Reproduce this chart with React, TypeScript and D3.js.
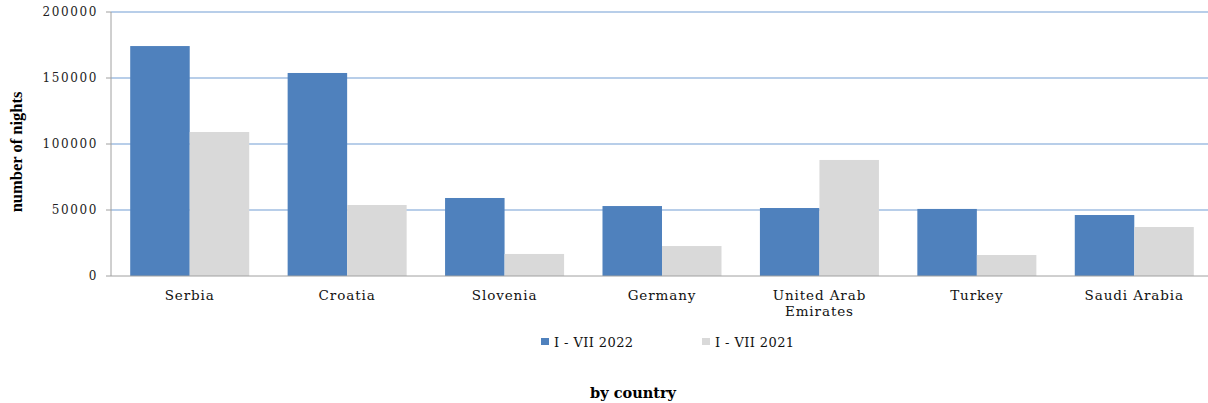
import * as d3 from "d3";

const countries = [
  "Serbia",
  "Croatia",
  "Slovenia",
  "Germany",
  "United Arab Emirates",
  "Turkey",
  "Saudi Arabia",
];
const labelLines = [
  ["Serbia"],
  ["Croatia"],
  ["Slovenia"],
  ["Germany"],
  ["United Arab", "Emirates"],
  ["Turkey"],
  ["Saudi Arabia"],
];
const nights2022 = [174200, 153800, 59100, 53000, 51500, 50800, 46200];
const nights2021 = [109100, 53800, 16700, 22700, 87900, 15900, 37100];
const seriesNames = ["I - VII 2022", "I - VII 2021"];
const yTicks = [0, 50000, 100000, 150000, 200000];

const colors = ["#4f81bd", "#d9d9d9"];
const font = "'DejaVu Serif', 'Liberation Serif', serif";

export default function App() {
  const width = 1208;
  const height = 403;
  const margin = { top: 12, right: -5, bottom: 127, left: 111 };

  const x = d3
    .scaleBand()
    .domain(countries)
    .range([margin.left, width - margin.right])
    .paddingInner(0.244)
    .paddingOuter(0.122);

  const xInner = d3
    .scaleBand()
    .domain(seriesNames)
    .range([0, x.bandwidth()]);

  const y = d3
    .scaleLinear()
    .domain([0, 200000])
    .range([height - margin.bottom, margin.top]);

  const series = [nights2022, nights2021];

  return (
    <svg
      width={width}
      height={height}
      style={{ position: "absolute", left: 0, top: 0, fontFamily: font }}
    >
      {/* grid */}
      {yTicks.map((t) => (
        <g key={t} transform={`translate(0,${y(t)})`}>
          {t > 0 && (
            <line
              x1={margin.left}
              x2={width}
              stroke="#729dd3"
              strokeWidth={1.2}
            />
          )}
          <line x1={margin.left - 5} x2={margin.left} stroke="#a0a0a0" />
          <text
            x={margin.left - 13}
            dy="0.35em"
            textAnchor="end"
            fontSize={12}
            letterSpacing={1.6}
            fill="#222"
          >
            {t}
          </text>
        </g>
      ))}

      {/* bars */}
      {countries.map((c, i) => (
        <g key={c} transform={`translate(${x(c)},0)`}>
          {series.map((s, j) => (
            <rect
              key={j}
              x={xInner(seriesNames[j])}
              y={y(s[i])}
              width={xInner.bandwidth()}
              height={y(0) - y(s[i])}
              fill={colors[j]}
            />
          ))}
          <text
            x={x.bandwidth() / 2}
            y={y(0) + 24}
            textAnchor="middle"
            fontSize={13.5}
            letterSpacing={0.9}
            fill="#111"
          >
            {labelLines[i].map((l, k) => (
              <tspan key={k} x={x.bandwidth() / 2} dy={k === 0 ? 0 : 16}>
                {l}
              </tspan>
            ))}
          </text>
        </g>
      ))}

      {/* axes */}
      <line
        x1={margin.left}
        x2={margin.left}
        y1={margin.top}
        y2={y(0)}
        stroke="#a0a0a0"
      />
      <line
        x1={margin.left}
        x2={width}
        y1={y(0)}
        y2={y(0)}
        stroke="#a0a0a0"
      />

      {/* y title */}
      <text
        transform={`translate(22,${(margin.top + y(0)) / 2 + 8}) rotate(-90)`}
        textAnchor="middle"
        fontFamily="'Liberation Serif', serif"
        fontWeight="bold"
        fontSize={16.5}
        fill="#000"
      >
        number of nights
      </text>

      {/* legend */}
      {seriesNames.map((n, j) => (
        <g key={n} transform={`translate(${541 + j * 161},342)`}>
          <rect x={0} y={-4} width={8} height={7} fill={colors[j]} />
          <text x={13} dy="0.35em" fontSize={13} letterSpacing={0.4} fill="#111">
            {n}
          </text>
        </g>
      ))}

      <text
        x={633}
        y={398}
        textAnchor="middle"
        fontWeight="bold"
        fontSize={14.5}
        fill="#000"
      >
        by country
      </text>
    </svg>
  );
}
